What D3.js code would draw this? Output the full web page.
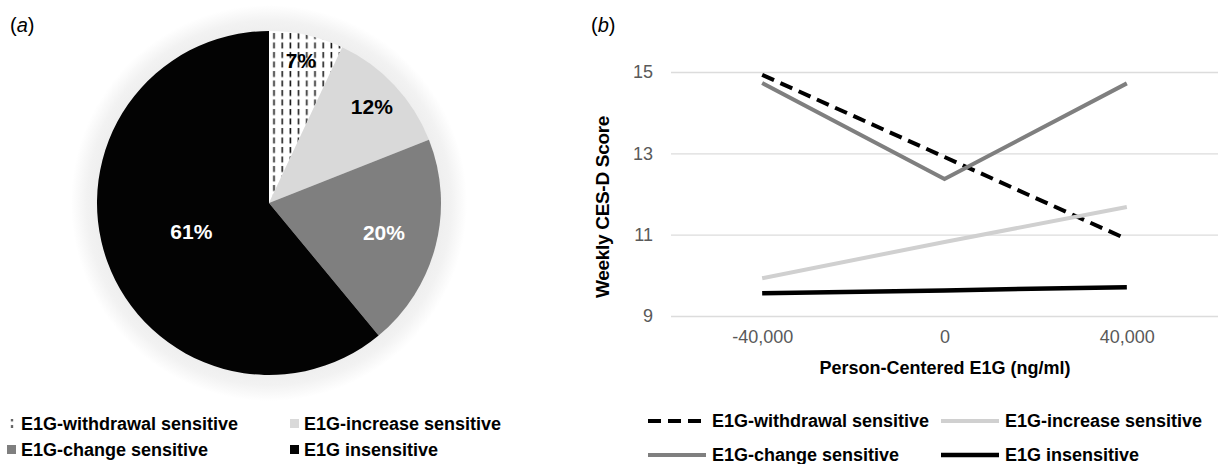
<!DOCTYPE html>
<html>
<head>
<meta charset="utf-8">
<script src="https://cdn.jsdelivr.net/npm/d3@7"></script>
<style>
  body { margin: 0; background: #fff; }
  svg { display: block; font-family: "Liberation Sans", Arial, sans-serif; }
</style>
</head>
<body>
<svg id="chart" width="1219" height="464"></svg>
<script>
// panel (a): share of women in each class
let groups = ["E1G-withdrawal sensitive", "E1G-increase sensitive", "E1G-change sensitive", "E1G insensitive"];
let shares = [7, 12, 20, 61];

// panel (b): predicted weekly CES-D score
let xTicks = ["-40,000", "0", "40,000"];
let yTicks = [9, 11, 13, 15];
let withdrawal = [14.93, 12.91, 10.89];
let increase = [9.93, 10.82, 11.68];
let change = [14.73, 12.37, 14.72];
let insensitive = [9.56, 9.63, 9.71];

let series = [withdrawal, increase, change, insensitive];

let svg = d3.select("#chart");
let defs = svg.append("defs");

// dashed hatch for the withdrawal slice
let hatch = defs.append("pattern")
    .attr("id", "hatch")
    .attr("patternUnits", "userSpaceOnUse")
    .attr("width", 8.2).attr("height", 9.5)
    .attr("x", 1);
hatch.append("rect").attr("width", 8.2).attr("height", 9.5).attr("fill", "#fff");
hatch.append("line")
    .attr("x1", 4).attr("x2", 4).attr("y1", 1).attr("y2", 7)
    .attr("stroke", "#1a1a1a").attr("stroke-width", 1.6);

// soft glow round the pie
let halo = defs.append("radialGradient").attr("id", "halo");
halo.append("stop").attr("offset", "0.86").attr("stop-color", "#eeeeee");
halo.append("stop").attr("offset", "0.92").attr("stop-color", "#f2f2f2");
halo.append("stop").attr("offset", "1").attr("stop-color", "#ffffff");

let pieFill = ["url(#hatch)", "#d9d9d9", "#7f7f7f", "#030303"];
let labelFill = ["#000", "#000", "#fff", "#fff"];
let labelR = [0.85, 0.82, 0.69, 0.48]; // label distance as part of radius

// ---- panel (a) ----
let cx = 269, cy = 203, R = 172;
let pieG = svg.append("g").attr("transform", "translate(" + cx + "," + cy + ")");

pieG.append("circle").attr("r", 198).attr("fill", "url(#halo)");

let pie = d3.pie().sort(null).value(d => d);
let arcs = pie(shares);
let arc = d3.arc().innerRadius(0).outerRadius(R);

pieG.selectAll("path.slice")
    .data(arcs)
    .join("path")
    .attr("class", "slice")
    .attr("d", arc)
    .attr("fill", (d, i) => pieFill[i]);

pieG.selectAll("text.pct")
    .data(arcs)
    .join("text")
    .attr("class", "pct")
    .attr("transform", (d, i) => {
        let a = (d.startAngle + d.endAngle) / 2;
        let r = R * labelR[i];
        return "translate(" + (Math.sin(a) * r) + "," + (-Math.cos(a) * r) + ")";
    })
    .attr("text-anchor", "middle")
    .attr("dy", "0.36em")
    .style("font-size", "21px")
    .style("font-weight", "bold")
    .attr("fill", (d, i) => labelFill[i])
    .text(d => d.data + "%");

svg.append("text").attr("x", 10).attr("y", 32)
    .style("font-size", "20px")
    .html('(<tspan font-style="italic">a</tspan>)');

// legend (a)
let legA = svg.append("g");
let legAPos = [[7, 424], [290, 424], [7, 450], [290, 450]];
groups.forEach((g, i) => {
    let item = legA.append("g").attr("transform", "translate(" + legAPos[i][0] + "," + legAPos[i][1] + ")");
    item.append("rect").attr("x", 0).attr("y", -5).attr("width", 9).attr("height", 9)
        .attr("fill", pieFill[i]);
    item.append("text").attr("x", 14).attr("dy", "0.35em")
        .style("font-size", "18px").style("font-weight", "bold")
        .text(g);
});

// ---- panel (b) ----
let x = d3.scalePoint().domain(xTicks).range([671, 1218]).padding(0.5);
let y = d3.scaleLinear().domain([9, 15]).range([316, 72]);

svg.append("text").attr("x", 591).attr("y", 32)
    .style("font-size", "20px")
    .html('(<tspan font-style="italic">b</tspan>)');

let grid = svg.append("g")
    .attr("transform", "translate(671,0)")
    .call(d3.axisLeft(y).tickValues(yTicks).tickSize(-(1218 - 671)).tickPadding(18).tickFormat(d3.format("d")));
grid.select(".domain").remove();
grid.selectAll(".tick line").attr("stroke", "#dcdcdc").attr("stroke-width", 1.3);
grid.selectAll(".tick text").attr("fill", "#595959").style("font-size", "18px").style("font-family", null);

let xAxis = svg.append("g")
    .attr("transform", "translate(0,316)")
    .call(d3.axisBottom(x).tickSize(0).tickPadding(14));
xAxis.select(".domain").remove();
xAxis.selectAll(".tick text").attr("fill", "#595959").style("font-size", "18px").style("font-family", null);

svg.append("text")
    .attr("x", 945).attr("y", 374)
    .attr("text-anchor", "middle")
    .style("font-size", "18px").style("font-weight", "bold")
    .text("Person-Centered E1G (ng/ml)");

svg.append("text")
    .attr("transform", "translate(609,207) rotate(-90)")
    .attr("text-anchor", "middle")
    .style("font-size", "19px").style("font-weight", "bold")
    .style("letter-spacing", "-0.3px")
    .text("Weekly CES-D Score");

let lineColor = ["#000", "#d0d0d0", "#7f7f7f", "#000"];
let lineWidth = [4, 4, 4, 4.5];
let lineDash = ["13,7", null, null, null];

let line = d3.line().x((d, i) => x(xTicks[i])).y(d => y(d));

svg.selectAll("path.series")
    .data(series)
    .join("path")
    .attr("class", "series")
    .attr("d", line)
    .attr("fill", "none")
    .attr("stroke", (d, i) => lineColor[i])
    .attr("stroke-width", (d, i) => lineWidth[i])
    .attr("stroke-dasharray", (d, i) => lineDash[i]);

// legend (b)
let legB = svg.append("g");
let legBPos = [[648, 421], [941, 421], [648, 455], [941, 455]];
groups.forEach((g, i) => {
    let item = legB.append("g").attr("transform", "translate(" + legBPos[i][0] + "," + legBPos[i][1] + ")");
    item.append("line").attr("x1", 0).attr("x2", 58)
        .attr("stroke", lineColor[i])
        .attr("stroke-width", lineWidth[i])
        .attr("stroke-dasharray", lineDash[i]);
    item.append("text").attr("x", 64).attr("dy", "0.35em")
        .style("font-size", "18px").style("font-weight", "bold")
        .text(g);
});
</script>
</body>
</html>
